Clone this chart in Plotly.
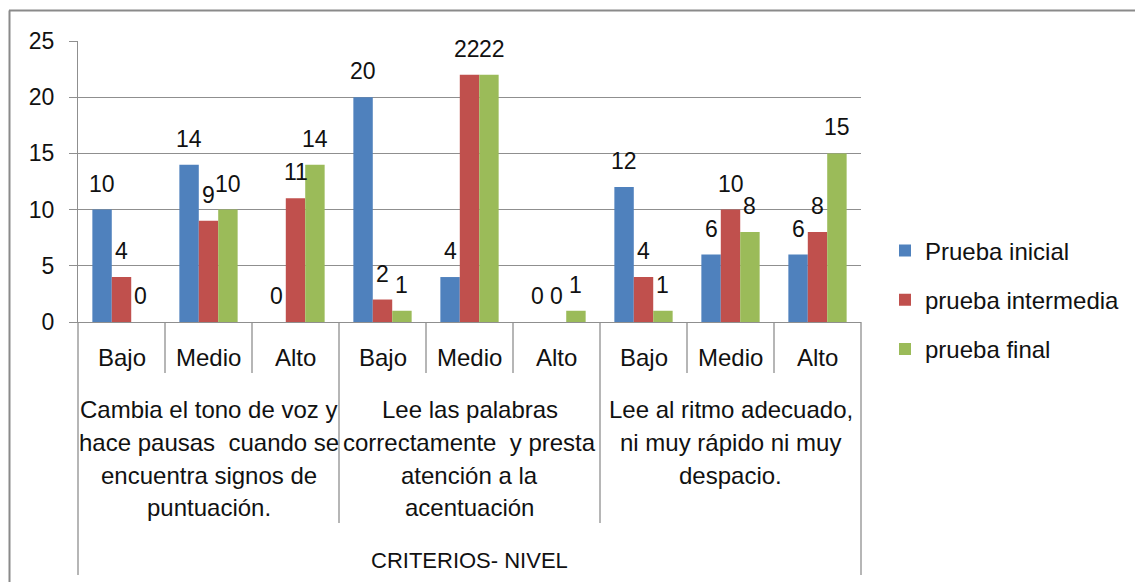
import plotly.graph_objects as go

# ---------------- data ----------------
levels = ["Bajo", "Medio", "Alto", "Bajo", "Medio", "Alto", "Bajo", "Medio", "Alto"]
criteria = [
    ["Cambia el tono de voz y", "hace pausas\u00a0 cuando se", "encuentra signos de", "puntuación."],
    ["Lee las palabras", "correctamente\u00a0 y presta", "atención a la", "acentuación"],
    ["Lee al ritmo adecuado,", "ni muy rápido ni muy", "despacio."],
]
axis_title = "CRITERIOS- NIVEL"
series_names = ["Prueba inicial", "prueba intermedia", "prueba final"]
prueba_inicial = [10, 14, 0, 20, 4, 0, 12, 6, 6]
prueba_intermedia = [4, 9, 11, 2, 22, 0, 4, 10, 8]
prueba_final = [0, 10, 14, 1, 22, 1, 1, 8, 15]
y_ticks = [0, 5, 10, 15, 20, 25]

series = [prueba_inicial, prueba_intermedia, prueba_final]
colors = ["#4F81BD", "#C0504D", "#9BBB59"]

# ---------------- layout geometry (page pixels) ----------------
OFF = 8                      # default body margin of the html page
PW, PH = 1143, 582           # page / window size
W, H = PW - OFF, PH - OFF    # figure size
L, R, T, B = 78, 861, 41, 322  # plot area in page pixels
FONT = "Liberation Sans"
GRID = "#8f8f8f"
TXT = "#111111"


def px2x(px):
    return (px - L) / (R - L)


def py2y(py):
    return (B - py) / (B - T)


n = len(levels)
xs = list(range(n))
bargap = 0.33
bw = (1 - bargap) / 3

fig = go.Figure()
for name, vals, col in zip(series_names, series, colors):
    fig.add_trace(go.Bar(
        x=xs, y=vals, name=name, legendgroup=name,
        marker=dict(color=col, line=dict(width=0)),
        hoverinfo="y+name",
    ))

annotations = []
# data labels
for k, vals in enumerate(series):
    for i, v in enumerate(vals):
        shift = 0
        if k > 0 and series[k - 1][i] == v and v > 0:
            shift = 3
        if k < 2 and series[k + 1][i] == v and v > 0:
            shift = -3
        annotations.append(dict(
            x=i + (k - 1) * bw, y=v, xref="x", yref="y",
            text=str(v), showarrow=False, yanchor="middle", xanchor="center",
            yshift=26, xshift=shift, font=dict(size=23, color=TXT, family=FONT),
        ))

# level labels
for i, lab in enumerate(levels):
    annotations.append(dict(
        x=i, y=py2y(357), xref="x", yref="paper", text=lab, showarrow=False,
        yanchor="middle", xanchor="center", font=dict(size=24, color=TXT, family=FONT),
    ))

# criteria labels (one annotation per line)
line_y = [410, 442, 475, 508]
for g, lines in enumerate(criteria):
    cx = g * 3 + 1
    for j, ln in enumerate(lines):
        annotations.append(dict(
            x=cx, y=py2y(line_y[j]), xref="x", yref="paper", text=ln, showarrow=False,
            yanchor="middle", xanchor="center", font=dict(size=24, color=TXT, family=FONT),
        ))

annotations.append(dict(
    x=(n - 1) / 2, y=py2y(560), xref="x", yref="paper", text=axis_title, showarrow=False,
    yanchor="middle", xanchor="center", font=dict(size=22, color=TXT, family=FONT),
))

shapes = []
# category dividers
for i in range(n + 1):
    xp = i / n
    if i in (0, n):
        bottom = 575
    elif i % 3 == 0:
        bottom = 523
    else:
        bottom = 373
    shapes.append(dict(type="line", xref="paper", yref="paper",
                       x0=xp, x1=xp, y0=py2y(B), y1=py2y(bottom),
                       line=dict(color=GRID, width=1.3)))
# outer chart border (top and left)
shapes.append(dict(type="line", xref="paper", yref="paper",
                   x0=px2x(9), x1=px2x(PW + 5), y0=py2y(10.5), y1=py2y(10.5),
                   line=dict(color="#8a8a8a", width=2)))
shapes.append(dict(type="line", xref="paper", yref="paper",
                   x0=px2x(9.5), x1=px2x(9.5), y0=py2y(10.5), y1=py2y(PH + 5),
                   line=dict(color="#8a8a8a", width=2)))

fig.update_layout(
    width=W, height=H,
    margin=dict(l=L - OFF, r=PW - R, t=T - OFF, b=PH - B, autoexpand=False),
    paper_bgcolor="white", plot_bgcolor="white",
    barmode="group", bargap=bargap, bargroupgap=0,
    font=dict(family=FONT, color=TXT, size=24),
    showlegend=True,
    legend=dict(
        x=px2x(885), y=py2y(300), xanchor="left", yanchor="middle",
        font=dict(size=24, color=TXT, family=FONT),
        traceorder="grouped", tracegroupgap=15,
        bgcolor="rgba(0,0,0,0)", borderwidth=0,
    ),
    annotations=annotations,
    shapes=shapes,
    xaxis=dict(
        range=[-0.5, n - 0.5], showticklabels=False, ticks="", showgrid=False,
        zeroline=False, showline=True, linecolor=GRID, linewidth=1.3, fixedrange=True,
    ),
    yaxis=dict(
        range=[0, 25], tickvals=y_ticks, showgrid=True, gridcolor=GRID, gridwidth=1.3,
        zeroline=False, showline=True, linecolor=GRID, linewidth=1.3,
        ticks="outside", ticklen=8, tickcolor=GRID, tickwidth=1.3,
        ticklabelstandoff=10,
        tickfont=dict(size=23, color=TXT, family=FONT), fixedrange=True,
    ),
)

fig.write_html("out.html")
